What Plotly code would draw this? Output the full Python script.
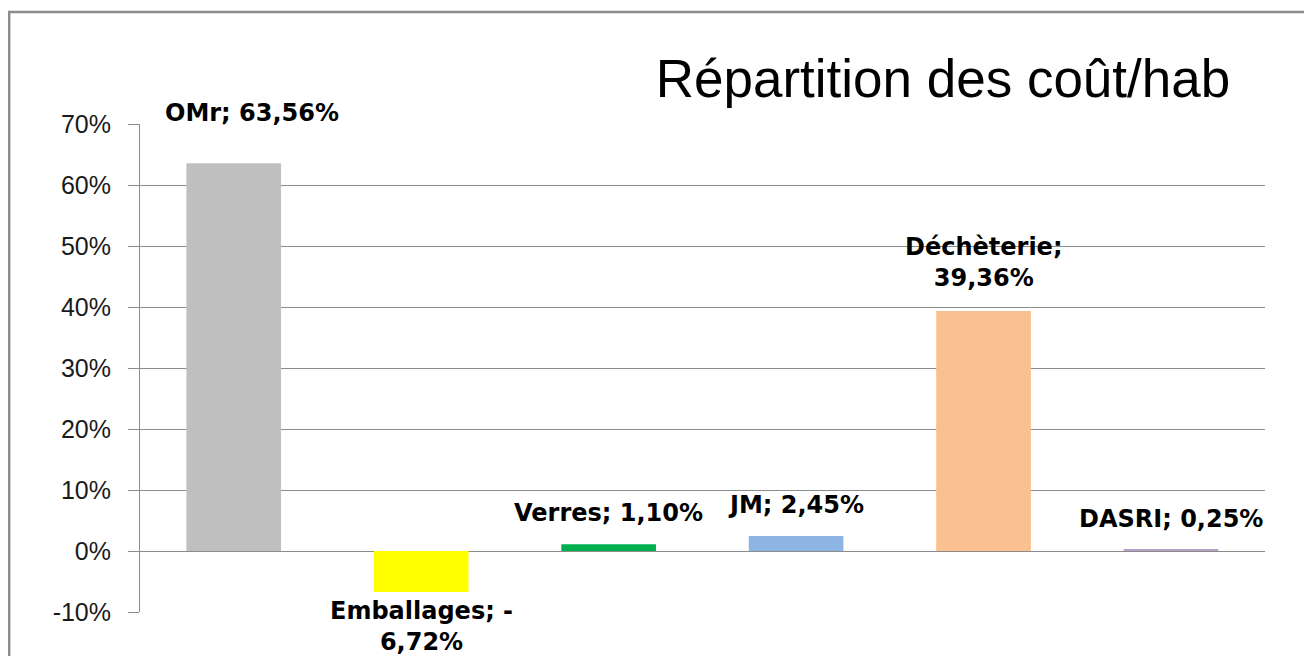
import plotly.graph_objects as go

categories = ["OMr", "Emballages", "Verres", "JM", "Déchèterie", "DASRI"]
values = [63.56, -6.72, 1.10, 2.45, 39.36, 0.25]
label_texts = ["OMr; 63,56%", "Emballages; -<br>6,72%", "Verres; 1,10%",
               "JM; 2,45%", "Déchèterie;<br>39,36%", "DASRI; 0,25%"]
tick_values = [-10, 0, 10, 20, 30, 40, 50, 60, 70]
tick_labels = ["-10%", "0%", "10%", "20%", "30%", "40%", "50%", "60%", "70%"]
title_text = "Répartition des coût/hab"

colors = ["#BFBFBF", "#FFFF00", "#00B050", "#8DB4E2", "#FAC090", "#B3A2C7"]
label_shift = [(18, 50), (0, -35), (0, 31), (0, 31), (0, 48), (0, 30)]

fig = go.Figure()
fig.add_trace(go.Bar(x=categories, y=values, marker=dict(color=colors, line=dict(width=0)),
                     width=0.505, hoverinfo="skip"))

for c, v, t, (dx, dy) in zip(categories, values, label_texts, label_shift):
    fig.add_annotation(x=c, y=v, text="<b>" + t + "</b>", showarrow=False,
                       xshift=dx, yshift=dy, yanchor="middle", xanchor="center",
                       align="center",
                       font=dict(family="DejaVu Sans", size=24, color="#000000"))

fig.add_shape(type="rect", xref="paper", yref="paper",
              x0=-0.1163, y0=-0.3, x1=1.2, y1=1.2296,
              line=dict(color="#8C8C8C", width=2.5), fillcolor="rgba(0,0,0,0)", layer="below")

fig.update_layout(
    width=1304, height=648,
    margin=dict(l=132, r=47, t=116, b=44),
    paper_bgcolor="white", plot_bgcolor="white",
    showlegend=False,
    title=dict(text=title_text, x=0.717, xanchor="center", y=0.892, yanchor="middle",
               xref="container", yref="container",
               font=dict(family="Liberation Sans", size=53, color="#000000")),
    xaxis=dict(showticklabels=False, showgrid=False, zeroline=False, showline=False,
               ticks=""),
    yaxis=dict(range=[-10, 70], tickvals=tick_values, ticktext=tick_labels,
               showgrid=True, gridcolor="#8C8C8C", gridwidth=1,
               zeroline=False, showline=True, linecolor="#8C8C8C", linewidth=1,
               ticks="outside", ticklen=11, tickcolor="#8C8C8C",
               ticklabelstandoff=12,
               tickfont=dict(family="Liberation Sans", size=25, color="#1a1a1a")),
)

fig.write_html("out.html")
